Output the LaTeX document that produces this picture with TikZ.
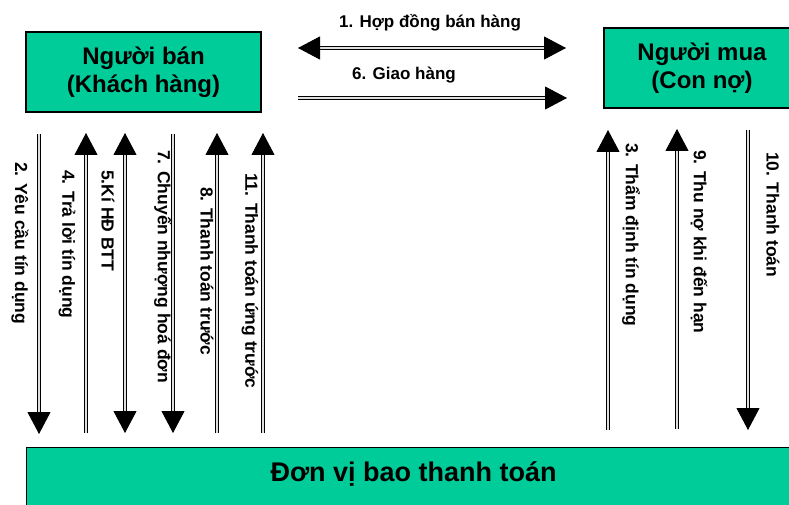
\documentclass[tikz,border=0pt]{standalone}
\usepackage{fontspec}
\setmainfont{Liberation Sans}
\usetikzlibrary{arrows.meta}
\definecolor{boxgreen}{HTML}{00CC99}
\begin{document}
\begin{tikzpicture}[x=1pt,y=-1pt,
  >={Triangle[width=23pt,length=22pt]},
  party/.style={draw=black, line width=1.2pt, fill=boxgreen, align=center,
    font=\fontsize{24}{28}\selectfont\bfseries, inner sep=0pt},
  flow/.style={line width=0.9pt, double=gray!25, double distance=2pt},
  vlabel/.style={rotate=-90, anchor=west, inner sep=0pt,
    font=\fontsize{17.5}{20}\selectfont\bfseries},
  hlabel/.style={inner sep=0pt, font=\fontsize{17}{20}\selectfont\bfseries}]
\useasboundingbox (0,0) rectangle (789,505);

% parties
\node[party, minimum width=235pt, minimum height=80pt] (seller) at (143.5,72)
  {Người bán\\(Khách hàng)};
\node[party, minimum width=196pt, minimum height=80pt] (buyer) at (702,68)
  {Người mua\\(Con nợ)};
\node[party, minimum width=774pt, minimum height=70pt, anchor=north west,
  text depth=22pt, font=\fontsize{27}{32}\selectfont\bfseries] (factor) at (26,447)
  {Đơn vị bao thanh toán};

% end points of the flows
\coordinate (h1l) at (298,48);  \coordinate (h1r) at (566,48);
\coordinate (h6l) at (298,98);  \coordinate (h6r) at (567,98);
\foreach \n/\x/\t/\b in {2/39/134/434, 4/86/133/433, 5/125/133/433, 7/173/134/433,
                         8/217/133/433, 11/263/133/433,
                         3/608/130/430, 9/677/129/429, 10/748/130/430}{
  \coordinate (t\n) at (\x,\t);
  \coordinate (b\n) at (\x,\b);
}

% horizontal flows between seller and buyer
\draw[flow, <->] (h1l) -- (h1r);
\draw[flow, ->] (h6l) -- (h6r);
\node[hlabel] (l1) at (430,23) {1. Hợp đồng bán hàng};
\node[hlabel] (l6) at (404,75) {6. Giao hàng};

% vertical flows to and from the factor
\draw[flow, ->] (t2) -- (b2);
\draw[flow, ->] (b4) -- (t4);
\draw[flow, <->] (t5) -- (b5);
\draw[flow, ->] (t7) -- (b7);
\draw[flow, ->] (b8) -- (t8);
\draw[flow, ->] (b11) -- (t11);
\draw[flow, ->] (b3) -- (t3);
\draw[flow, ->] (b9) -- (t9);
\draw[flow, ->] (t10) -- (b10);

\node[vlabel] (l2) at (20,162) {2. Yêu cầu tín dụng};
\node[vlabel] (l4) at (67,170) {4. Trả lời tín dụng};
\node[vlabel] (l5) at (108,170) {5.Kí HĐ BTT};
\node[vlabel] (l7) at (163,150) {7. Chuyển nhượng hoá đơn};
\node[vlabel] (l8) at (207,187) {8. Thanh toán trước};
\node[vlabel] (l11) at (250,173) {11. Thanh toán ứng trước};
\node[vlabel] (l3) at (631,143) {3. Thẩm định tín dụng};
\node[vlabel] (l9) at (699,150) {9. Thu nợ khi đến hạn};
\node[vlabel] (l10) at (773,152) {10. Thanh toán};
\end{tikzpicture}
\end{document}
